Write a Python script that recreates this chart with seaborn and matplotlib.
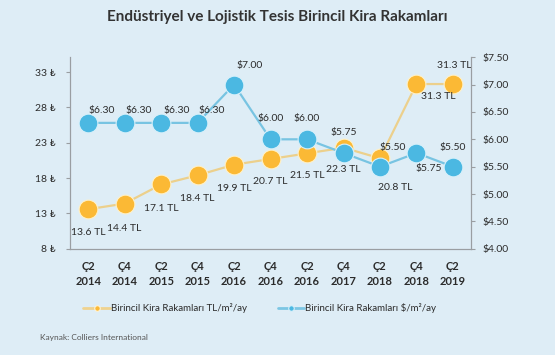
import numpy as np
import pandas as pd
import matplotlib.pyplot as plt
import seaborn as sns

# Data
periods = ['Ç2\n2014', 'Ç4\n2014', 'Ç2\n2015', 'Ç4\n2015', 'Ç2\n2016', 'Ç4\n2016',
           'Ç2\n2016', 'Ç4\n2017', 'Ç2\n2018', 'Ç4\n2018', 'Ç2\n2019']
tl_rent = [13.6, 14.4, 17.1, 18.4, 19.9, 20.7, 21.5, 22.3, 20.8, 31.3, 31.3]
usd_rent = [6.30, 6.30, 6.30, 6.30, 7.00, 6.00, 6.00, 5.75, 5.50, 5.75, 5.50]
tl_ticks = [8, 13, 18, 23, 28, 33]
usd_ticks = [4.00, 4.50, 5.00, 5.50, 6.00, 6.50, 7.00, 7.50]

# label offsets (points) for each marker
tl_offsets = [(0, -17), (0, -18), (0, -17), (0, -17), (0, -17), (0, -16),
              (0, -16), (0, -16), (11, -21), (16, -9), (1, 13)]
usd_offsets = [(10, 9), (10, 9), (11, 9), (10, 9), (11, 14), (0, 15),
               (0, 15), (0, 15), (9, 14), (9, -11), (0, 14)]

bg = '#deedf6'
yellow = '#fbb935'
yellow_line = '#ecd08c'
blue = '#4bb8e2'
blue_line = '#78c4e2'
text_col = '#2b2b2b'
axis_col = '#9a9ea2'

sns.set_theme(style='white')
plt.rcParams['font.family'] = ['Lato', 'DejaVu Sans']

df = pd.DataFrame({'x': np.arange(len(periods)), 'tl': tl_rent, 'usd': usd_rent})

fig = plt.figure(figsize=(5.55, 3.55), dpi=100, facecolor=bg)
ax = fig.add_axes([0.126, 0.299, 0.723, 0.540])
ax.set_facecolor('none')
ax2 = ax.twinx()

sns.lineplot(data=df, x='x', y='tl', ax=ax, color=yellow_line, lw=1.6,
             marker='o', markersize=13.5, markerfacecolor=yellow,
             markeredgecolor='#fff1c8', markeredgewidth=0.8, zorder=2)
sns.lineplot(data=df, x='x', y='usd', ax=ax2, color=blue_line, lw=1.6,
             marker='o', markersize=13.5, markerfacecolor=blue,
             markeredgecolor='#d8f0fa', markeredgewidth=0.8, zorder=3)

for i, v in enumerate(tl_rent):
    ax.annotate(f'{v:.1f} TL', (i, v), xytext=tl_offsets[i], textcoords='offset points',
                ha='center', va='center', fontsize=7.5, color=text_col)
for i, v in enumerate(usd_rent):
    ax2.annotate(f'${v:.2f}', (i, v), xytext=usd_offsets[i], textcoords='offset points',
                 ha='center', va='center', fontsize=7.5, color=text_col)

ax.set_xlim(-0.5, len(periods) - 0.5)
ax.set_ylim(8, 35.1)
ax2.set_ylim(4, 7.5)

ax.set_yticks(tl_ticks)
ax.set_yticklabels([f'{t} ₺' for t in tl_ticks], fontsize=7.5, color=text_col)
ax2.set_yticks(usd_ticks)
ax2.set_yticklabels([f'${t:.2f}' for t in usd_ticks], fontsize=7.5, color=text_col)

ax.set_xticks(np.arange(len(periods)))
ax.set_xticklabels(periods, fontsize=8, color=text_col, fontweight='bold', linespacing=1.45)
ax.set_xticks(np.arange(-0.5, len(periods)), minor=True)
ax.tick_params(axis='x', which='major', length=0, pad=9)
ax.tick_params(axis='x', which='minor', length=3, width=0.8, color=axis_col, direction='out')
ax.tick_params(axis='y', length=3, width=0.8, color=axis_col, pad=7)
ax2.tick_params(axis='y', length=3, width=0.8, color=axis_col, pad=5)
ax.set_xlabel('')
ax.set_ylabel('')
ax2.set_ylabel('')

for a in (ax, ax2):
    a.spines['top'].set_visible(False)
    for s in ('left', 'right', 'bottom'):
        a.spines[s].set_color(axis_col)
        a.spines[s].set_linewidth(0.8)

# legend
h1 = plt.Line2D([], [], color='#efd38f', lw=2, marker='o', markersize=4,
                markerfacecolor=yellow, markeredgecolor='#fff4d6', markeredgewidth=0.8)
h2 = plt.Line2D([], [], color='#7cc6e4', lw=2, marker='o', markersize=4,
                markerfacecolor=blue, markeredgecolor='#d8f0fa', markeredgewidth=0.8)
fig.legend([h1, h2], ['Birincil Kira Rakamları TL/m²/ay', 'Birincil Kira Rakamları $/m²/ay'],
           loc='center', bbox_to_anchor=(0.468, 0.132), ncol=2, frameon=False,
           fontsize=7, handlelength=2.7, columnspacing=3.2, handletextpad=0.1,
           labelcolor=text_col)

fig.text(0.5, 0.952, 'Endüstriyel ve Lojistik Tesis Birincil Kira Rakamları',
         ha='center', va='center', fontsize=11, fontweight='bold', color='#333333')
fig.text(0.072, 0.048, 'Kaynak: Colliers International', ha='left', va='center',
         fontsize=6, color='#555555')

fig.savefig('out.png', dpi=100, facecolor=bg)
